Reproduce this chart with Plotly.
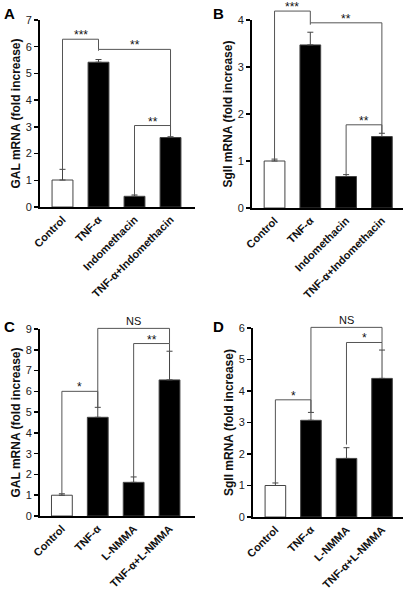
import plotly.graph_objects as go

# ---------------- data ----------------
cats_indo = ["Control", "TNF-α", "Indomethacin", "TNF-α+Indomethacin"]
cats_lnmma = ["Control", "TNF-α", "L-NMMA", "TNF-α+L-NMMA"]

gal_indo_mean = [1.01, 5.42, 0.40, 2.60]
gal_indo_err = [0.40, 0.10, 0.05, 0.03]
sgii_indo_mean = [1.00, 3.47, 0.67, 1.52]
sgii_indo_err = [0.04, 0.27, 0.04, 0.07]
gal_lnmma_mean = [1.00, 4.75, 1.62, 6.55]
gal_lnmma_err = [0.07, 0.48, 0.26, 1.38]
sgii_lnmma_mean = [1.00, 3.07, 1.86, 4.40]
sgii_lnmma_err = [0.08, 0.25, 0.34, 0.90]

# significance brackets: (left cat idx, right cat idx, height, label, left leg bottom, right leg bottom)
gal_indo_sig = [(0, 1, 6.28, "***", 1.41, 5.90), (1, 3, 5.90, "**", 5.85, 2.63), (2, 3, 3.05, "**", 0.45, 2.63)]
sgii_indo_sig = [(0, 1, 4.19, "***", 1.04, 3.94), (1, 3, 3.94, "**", 3.90, 1.59), (2, 3, 1.77, "**", 0.71, 1.59)]
gal_lnmma_sig = [(0, 1, 6.00, "*", 1.07, 5.23), (1, 3, 9.03, "NS", 5.23, 8.30), (2, 3, 8.30, "**", 1.88, 7.93)]
sgii_lnmma_sig = [(0, 1, 3.72, "*", 1.08, 3.32), (1, 3, 6.02, "NS", 3.32, 5.54), (2, 3, 5.54, "*", 2.30, 5.30)]

W, H = 408, 595
FONT = "Liberation Sans, Arial, Helvetica, sans-serif"

# layout geometry (pixels): x-axis start, x-axis end, y of zero, y of top tick
panels = [
    dict(letter="A", cats=cats_indo, mean=gal_indo_mean, err=gal_indo_err, sig=gal_indo_sig,
         ytitle="GAL mRNA (fold increase)", ymax=7, geo=(40, 195, 207, 20), xr=(-0.625, 3.68), lpos=(2, 3)),
    dict(letter="B", cats=cats_indo, mean=sgii_indo_mean, err=sgii_indo_err, sig=sgii_indo_sig,
         ytitle="SgII mRNA (fold increase)", ymax=4, geo=(252, 403, 208, 20), xr=(-0.63, 3.59), lpos=(211, 3)),
    dict(letter="C", cats=cats_lnmma, mean=gal_lnmma_mean, err=gal_lnmma_err, sig=gal_lnmma_sig,
         ytitle="GAL mRNA (fold increase)", ymax=9, geo=(40, 195, 516, 329), xr=(-0.61, 3.71), lpos=(2, 316)),
    dict(letter="D", cats=cats_lnmma, mean=sgii_lnmma_mean, err=sgii_lnmma_err, sig=sgii_lnmma_sig,
         ytitle="SgII mRNA (fold increase)", ymax=6, geo=(253, 403, 517, 328), xr=(-0.63, 3.59), lpos=(211, 316)),
]

fig = go.Figure()
layout = {}
annotations = []

for i, p in enumerate(panels):
    n = i + 1
    xk = "x" if n == 1 else f"x{n}"
    yd = "y" if n == 1 else f"y{n}"
    ye = f"y{n + 4}"
    x0, x1, yz, yt = p["geo"]
    ymax = p["ymax"]
    R = ymax * 1.09
    ytop_ext = yz - (yz - yt) * R / ymax

    colors = ["white"] + ["black"] * (len(p["cats"]) - 1)
    fig.add_trace(go.Bar(
        x=p["cats"], y=p["mean"], xaxis=xk, yaxis=yd, width=0.58,
        marker=dict(color=colors, line=dict(color="#444", width=1)),
        error_y=dict(type="data", array=p["err"], arrayminus=[0] * len(p["err"]), symmetric=False,
                     color="#444", thickness=1, width=3),
        showlegend=False, hoverinfo="skip",
    ))

    for (a, b, h, lab, lb, rb) in p["sig"]:
        ca, cb = p["cats"][a], p["cats"][b]
        fig.add_trace(go.Scatter(
            x=[ca, ca, cb, cb], y=[lb, h, h, rb], xaxis=xk, yaxis=ye, mode="lines",
            line=dict(color="#555", width=1), showlegend=False, hoverinfo="skip",
        ))
        annotations.append(dict(
            x=(a + b) / 2, y=h, xref=xk, yref=ye, text=lab, showarrow=False,
            yanchor="bottom", xanchor="center", yshift=(-5 if lab.startswith("*") else -1),
            font=dict(family=FONT, size=(12 if lab.startswith("*") else 11), color="#111"),
        ))

    xname = "xaxis" if n == 1 else f"xaxis{n}"
    ydname = "yaxis" if n == 1 else f"yaxis{n}"
    yename = f"yaxis{n + 4}"
    layout[xname] = dict(
        domain=[x0 / W, x1 / W], anchor=yd, range=list(p["xr"]), type="category", automargin=False,
        showline=True, linecolor="black", linewidth=2, ticks="", showgrid=False, zeroline=False,
        tickangle=-45, tickfont=dict(family=FONT, size=11, color="#111", weight="bold"),
        fixedrange=True,
    )
    layout[ydname] = dict(
        domain=[1 - yz / H, 1 - yt / H], anchor=xk, range=[0, ymax], dtick=1, automargin=False,
        showline=True, linecolor="black", linewidth=2, ticks="outside", ticklen=4, tickwidth=1.5,
        tickcolor="black", showgrid=False, zeroline=False,
        tickfont=dict(family=FONT, size=11, color="#222"),
        title=dict(text=p["ytitle"], standoff=2, font=dict(family=FONT, size=12, color="#111", weight="bold")),
    )
    layout[yename] = dict(
        domain=[1 - yz / H, 1 - ytop_ext / H], anchor=xk, range=[0, R], visible=False,
        showgrid=False, zeroline=False, automargin=False,
    )
    annotations.append(dict(
        x=p["lpos"][0] / W, y=1 - p["lpos"][1] / H, xref="paper", yref="paper", text=f"<b>{p['letter']}</b>",
        showarrow=False, xanchor="left", yanchor="top", font=dict(family=FONT, size=15, color="black"),
    ))

fig.update_layout(
    template="none",
    width=W, height=H, margin=dict(l=0, r=0, t=0, b=0, autoexpand=False),
    paper_bgcolor="white", plot_bgcolor="rgba(0,0,0,0)",
    bargap=0.4, annotations=annotations, font=dict(family=FONT),
    **layout,
)

fig.write_html(
    "out.html",
    config={"displayModeBar": False, "staticPlot": True},
    post_script="document.body.style.margin='0';document.body.style.overflow='hidden';",
)
